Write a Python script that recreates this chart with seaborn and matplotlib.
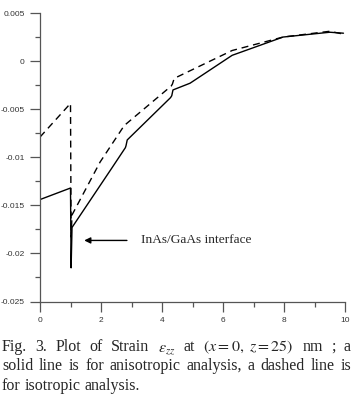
"""Strain eps_zz along depth at (x=0, z=25) nm: anisotropic vs isotropic."""

import matplotlib
matplotlib.use("Agg")
import matplotlib.pyplot as plt
import matplotlib.ticker as mticker
import pandas as pd
import seaborn as sns

# --- data ---------------------------------------------------------------
depth_aniso = [0.0, 1.0, 1.02, 1.05, 2.36, 2.80, 2.82, 2.86, 4.28, 4.32, 4.36,
               4.92, 6.3, 7.97, 9.5, 9.95]
strain_aniso = [-0.0144, -0.0132, -0.0215, -0.0173, -0.0111, -0.0090, -0.0088,
                -0.0082, -0.0038, -0.0036, -0.0030, -0.0023, 0.0006, 0.0025,
                0.0030, 0.0029]

depth_iso = [0.0, 1.0, 1.02, 1.05, 1.97, 2.70, 2.74, 2.80, 4.30, 4.34, 4.40,
             6.3, 7.97, 9.5, 9.95]
strain_iso = [-0.0079, -0.0044, -0.0183, -0.0160, -0.0105, -0.0070, -0.0069,
              -0.0066, -0.0026, -0.0024, -0.0018, 0.0011, 0.0025, 0.0031, 0.0028]

x_ticks = [0, 2, 4, 6, 8, 10]
y_ticks = [-0.025, -0.02, -0.015, -0.01, -0.005, 0, 0.005]
y_tick_labels = ["-0.025", "-0.02", "-0.015", "-0.01", "-0.005", "0", "0.005"]

annot_text = "InAs/GaAs interface"
caption_lines = [
    ["Fig.", "3.", "Plot", "of", "Strain", r"$\varepsilon_{zz}$", "at",
     r"$(x = 0,\ z = 25)$", "nm", ";", "a"],
    ["solid", "line", "is", "for", "anisotropic", "analysis,", "a", "dashed",
     "line", "is"],
    ["for", "isotropic", "analysis."],
]

# --- figure --------------------------------------------------------------
sns.set_theme(style="ticks")
plt.rcParams["mathtext.fontset"] = "stix"

W, H = 356, 398
fig = plt.figure(figsize=(W / 100, H / 100), dpi=100)
ax = fig.add_axes([40 / W, 1 - 301.5 / H, 305 / W, 288.5 / H])

df_a = pd.DataFrame({"depth": depth_aniso, "strain": strain_aniso})
df_i = pd.DataFrame({"depth": depth_iso, "strain": strain_iso})
sns.lineplot(data=df_a, x="depth", y="strain", ax=ax, color="black",
             linewidth=1.0, sort=False, estimator=None)
sns.lineplot(data=df_i, x="depth", y="strain", ax=ax, color="black",
             linewidth=1.0, linestyle=(0, (5, 3.5)), sort=False, estimator=None)

ax.set_xlim(0, 10)
ax.set_ylim(-0.025, 0.005)
ax.set_xticks(x_ticks)
ax.set_xticklabels([str(t) for t in x_ticks])
ax.set_yticks(y_ticks)
ax.set_yticklabels(y_tick_labels)
ax.xaxis.set_minor_locator(mticker.MultipleLocator(1))
ax.yaxis.set_minor_locator(mticker.MultipleLocator(0.0025))
ax.set_xlabel("")
ax.set_ylabel("")

sns.despine(ax=ax)
for side in ("left", "bottom"):
    ax.spines[side].set_color("#555555")
    ax.spines[side].set_linewidth(0.9)
ax.tick_params(which="major", direction="out", length=7, width=0.9,
               color="#555555", labelsize=6, labelcolor="#333333", pad=4)
ax.tick_params(which="minor", direction="out", length=3.5, width=0.9,
               color="#555555")
for lbl in ax.get_xticklabels() + ax.get_yticklabels():
    lbl.set_fontfamily(["Liberation Sans", "DejaVu Sans"])

ax.annotate("", xy=(1.45, -0.01865), xytext=(2.85, -0.01865),
            arrowprops=dict(arrowstyle="-|>", color="black", lw=1.0,
                            mutation_scale=9, shrinkA=0, shrinkB=0))
ax.text(3.3, -0.01865, annot_text, fontsize=9.6, va="center", ha="left",
        family=["Liberation Serif", "DejaVu Serif"])

# --- justified caption ---------------------------------------------------
cap_kw = dict(fontsize=11.5, family=["Liberation Serif", "DejaVu Serif"],
              va="baseline", ha="left")
baselines = [351, 370.5, 390]
x_left, x_right = 2, 351
fig.canvas.draw()
renderer = fig.canvas.get_renderer()
for i, (words, base) in enumerate(zip(caption_lines, baselines)):
    y = 1 - base / H
    texts = [fig.text(0, y, w, **cap_kw) for w in words]
    widths = [t.get_window_extent(renderer).width for t in texts]
    if i < len(caption_lines) - 1:
        gap = (x_right - x_left - sum(widths)) / (len(words) - 1)
    else:
        gap = 3.8
    pos = x_left
    for t, w in zip(texts, widths):
        t.set_x(pos / W)
        pos += w + gap

fig.savefig("out.png", dpi=100)
